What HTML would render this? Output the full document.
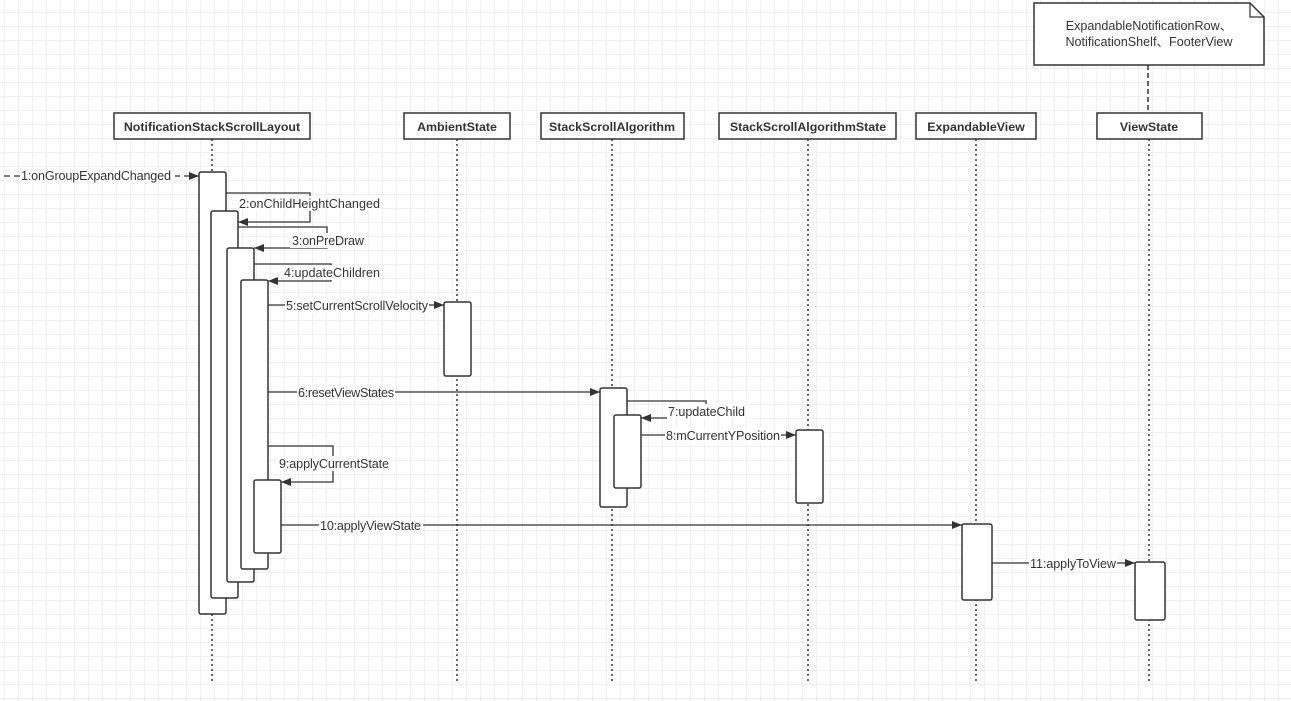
<!DOCTYPE html>
<html><head><meta charset="utf-8"><style>
html,body{margin:0;padding:0;background:#fff;}
svg{display:block;font-family:"Liberation Sans","Noto Sans CJK SC",sans-serif;}
</style></head><body>
<svg width="1291" height="701" viewBox="0 0 1291 701" xmlns="http://www.w3.org/2000/svg">
<defs>
<pattern id="g" x="4" y="12" width="14" height="14" patternUnits="userSpaceOnUse">
<path d="M0 0H14M0 0V14" stroke="#ececec" stroke-width="1.5" fill="none"/>
</pattern>
<marker id="a" markerWidth="10" markerHeight="8" refX="10" refY="4" orient="auto" markerUnits="userSpaceOnUse">
<path d="M0 0L10 4L0 8Z" fill="#333"/>
</marker>
</defs>
<rect width="1291" height="701" fill="url(#g)"/>
<g stroke="#333" stroke-width="1.5" fill="none" stroke-dasharray="2,3">
<line x1="212" y1="139" x2="212" y2="682"/>
<line x1="457" y1="139" x2="457" y2="682"/>
<line x1="612" y1="139" x2="612" y2="682"/>
<line x1="808" y1="139" x2="808" y2="682"/>
<line x1="976" y1="139" x2="976" y2="682"/>
<line x1="1149" y1="139" x2="1149" y2="682"/>
</g>
<line x1="1148" y1="65" x2="1148" y2="113" stroke="#333" stroke-width="1.5" stroke-dasharray="5,3"/>
<path d="M1034 3H1250L1264 17V65H1034Z" fill="#fff" stroke="#333" stroke-width="1.5"/>
<path d="M1250 3V17H1264" fill="none" stroke="#333" stroke-width="1.2"/>
<text x="1149" y="30" font-size="12.6" text-anchor="middle" fill="#333">ExpandableNotificationRow、</text>
<text x="1149" y="46" font-size="12.6" text-anchor="middle" fill="#333">NotificationShelf、FooterView</text>
<g fill="#fff" stroke="#333" stroke-width="1.5">
<rect x="114" y="113" width="196" height="26"/>
<rect x="404" y="113" width="106" height="26"/>
<rect x="541" y="113" width="143" height="26"/>
<rect x="719" y="113" width="177" height="26"/>
<rect x="916" y="113" width="120" height="26"/>
<rect x="1097" y="113" width="105" height="26"/>
</g>
<g font-size="12.4" font-weight="bold" text-anchor="middle" fill="#333">
<text x="212" y="131">NotificationStackScrollLayout</text>
<text x="457" y="131">AmbientState</text>
<text x="612" y="131">StackScrollAlgorithm</text>
<text x="808" y="131">StackScrollAlgorithmState</text>
<text x="976" y="131">ExpandableView</text>
<text x="1149" y="131">ViewState</text>
</g>
<g fill="#fff" stroke="#333" stroke-width="1.5">
<rect x="199" y="172" width="27" height="442" rx="2"/>
<rect x="211" y="211" width="27" height="387" rx="2"/>
<rect x="227" y="248" width="27" height="334" rx="2"/>
<rect x="241" y="280" width="27" height="289" rx="2"/>
<rect x="254" y="480" width="27" height="73" rx="2"/>
<rect x="444" y="302" width="27" height="74" rx="2"/>
<rect x="600" y="388" width="27" height="119" rx="2"/>
<rect x="614" y="415" width="27" height="73" rx="2"/>
<rect x="796" y="430" width="27" height="73" rx="2"/>
<rect x="962" y="524" width="30" height="76" rx="2"/>
<rect x="1135" y="562" width="30" height="58" rx="2"/>
</g>
<g stroke="#333" stroke-width="1.3" fill="none" marker-end="url(#a)">
<line x1="4" y1="176" x2="199" y2="176" stroke-dasharray="6,4"/>
<polyline points="226,193 310,193 310,222 238,222"/>
<polyline points="238,227 327,227 327,248 254,248"/>
<polyline points="254,264 331,264 331,281 268,281"/>
<line x1="268" y1="305" x2="444" y2="305"/>
<line x1="268" y1="392" x2="600" y2="392"/>
<polyline points="627,401 706,401 706,418 641,418"/>
<line x1="641" y1="435" x2="796" y2="435"/>
<polyline points="268,446 333,446 333,482 281,482"/>
<line x1="281" y1="525" x2="962" y2="525"/>
<line x1="992" y1="563" x2="1135" y2="563"/>
</g>
<g font-size="12.6" fill="#333">
<g fill="#fff"><rect x="20" y="168" width="155" height="16"/><rect x="238" y="196" width="143" height="15"/><rect x="290" y="233" width="76" height="15"/><rect x="282" y="265" width="100" height="15"/><rect x="285" y="298" width="144" height="15"/><rect x="297" y="385" width="98" height="15"/><rect x="667" y="404" width="80" height="15"/><rect x="665" y="428" width="116" height="15"/><rect x="278" y="456" width="112" height="15"/><rect x="319" y="518" width="104" height="15"/><rect x="1029" y="556" width="88" height="15"/></g>
<text x="21" y="180" textLength="150">1:onGroupExpandChanged</text>
<text x="239" y="208" textLength="141">2:onChildHeightChanged</text>
<text x="292" y="245" textLength="72">3:onPreDraw</text>
<text x="284" y="277" textLength="96">4:updateChildren</text>
<text x="286" y="310" textLength="142">5:setCurrentScrollVelocity</text>
<text x="298" y="397" textLength="96">6:resetViewStates</text>
<text x="668" y="416" textLength="77">7:updateChild</text>
<text x="666" y="440" textLength="114">8:mCurrentYPosition</text>
<text x="279" y="468" textLength="110">9:applyCurrentState</text>
<text x="320" y="530" textLength="101">10:applyViewState</text>
<text x="1030" y="568" textLength="86">11:applyToView</text>
</g>
</svg>
</body></html>
